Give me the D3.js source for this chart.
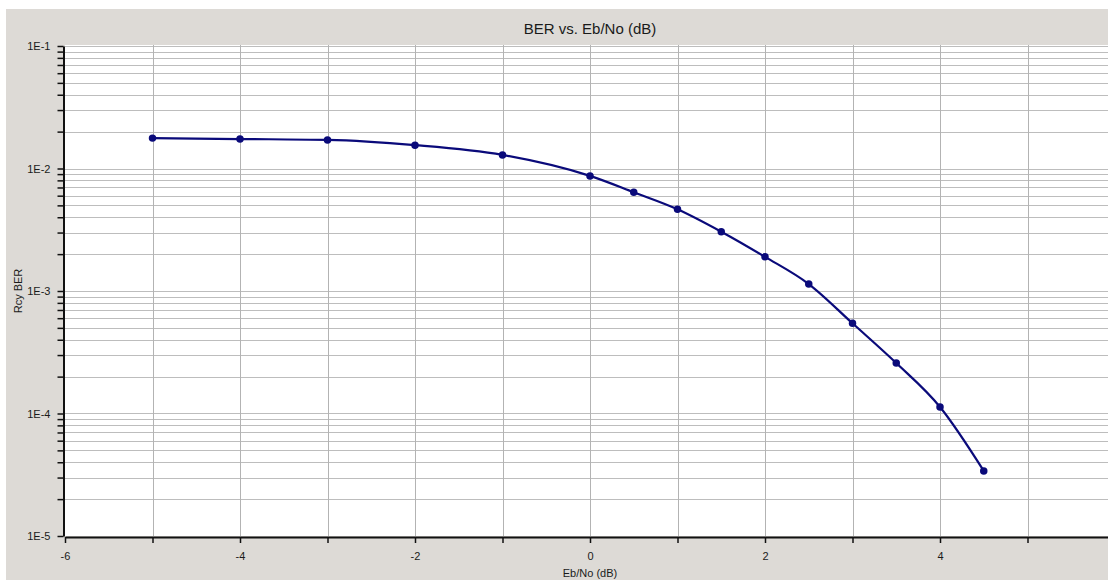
<!DOCTYPE html>
<html>
<head>
<meta charset="utf-8">
<script src="https://cdn.jsdelivr.net/npm/d3@7/dist/d3.min.js"></script>
<style>
  html, body { margin: 0; padding: 0; background: #ffffff; }
  svg { display: block; }
  text { font-family: "Liberation Sans", Arial, sans-serif; fill: #1a1a1a; }
</style>
</head>
<body>
<svg id="chart" width="1108" height="580"></svg>
<script>
// Eb/No sweep (dB) and measured receive bit error rate
const ebno = [-5, -4, -3, -2, -1, 0, 0.5, 1, 1.5, 2, 2.5, 3, 3.5, 4, 4.5];
const ber = [1.77e-2, 1.74e-2, 1.71e-2, 1.55e-2, 1.29e-2, 8.7e-3, 6.4e-3, 4.65e-3,
             3.05e-3, 1.9e-3, 1.14e-3, 5.45e-4, 2.58e-4, 1.13e-4, 3.4e-5];

// Axis ticks and labels
const xTicks = [-6, -5, -4, -3, -2, -1, 0, 1, 2, 3, 4, 5];
const xLabels = ["-6", "-4", "-2", "0", "2", "4"];
const yMajor = [1e-5, 1e-4, 1e-3, 1e-2, 1e-1];
const yLabels = ["1E-5", "1E-4", "1E-3", "1E-2", "1E-1"];

const titleText = "BER vs. Eb/No (dB)";
const xTitle = "Eb/No (dB)";
const yTitle = "Rcy BER";

const W = 1108, H = 580;
const plot = { left: 65, top: 46, bottom: 536 };

const svg = d3.select("#chart");

// grey panel
svg.append("rect").attr("x", 6).attr("y", 9).attr("width", W - 6).attr("height", H - 9)
  .attr("fill", "#dddad6");

const x = d3.scaleLinear().domain([-6, 6]).range([plot.left, plot.left + 12 * 87.5]);
const y = d3.scaleLog().domain([1e-5, 1e-1]).range([plot.bottom, plot.top]);

// plot area
svg.append("rect").attr("x", plot.left).attr("y", plot.top - 1)
  .attr("width", W - plot.left).attr("height", plot.bottom - plot.top + 1)
  .attr("fill", "#ffffff");

// minor ticks (2..9 per decade) and majors
const yAll = [];
for (let e = -5; e < -1; e++) {
  for (let m = 1; m <= 9; m++) yAll.push(m * Math.pow(10, e));
}
yAll.push(1e-1);

// horizontal grid
svg.append("g").selectAll("line").data(yAll.filter(v => v > 1e-5)).join("line")
  .attr("x1", plot.left).attr("x2", W)
  .attr("y1", d => Math.round(y(d)) + 0.5).attr("y2", d => Math.round(y(d)) + 0.5)
  .attr("stroke", "#bdbdbd").attr("stroke-width", 1);

// vertical grid
svg.append("g").selectAll("line").data(xTicks.filter(v => v > -6)).join("line")
  .attr("x1", d => Math.round(x(d)) + 0.5).attr("x2", d => Math.round(x(d)) + 0.5)
  .attr("y1", plot.top - 1).attr("y2", plot.bottom)
  .attr("stroke", "#b3b3b3").attr("stroke-width", 1);

// y axis
const yAxis = d3.axisLeft(y).tickValues(yAll).tickSize(6).tickSizeOuter(0)
  .tickFormat(d => {
    const i = yMajor.findIndex(v => Math.abs(v - d) / v < 1e-6);
    return i >= 0 ? yLabels[i] : "";
  });
const gy = svg.append("g").attr("transform", `translate(${plot.left - 1.5},0)`).call(yAxis);
gy.select(".domain").attr("stroke", "#111").attr("stroke-width", 2);
gy.selectAll(".tick line").attr("stroke", "#111").attr("stroke-width", 1.5);
gy.selectAll(".tick text").attr("x", -13).attr("font-size", 11)
  .style("font-family", "'Liberation Sans', Arial, sans-serif").attr("fill", "#1a1a1a");

// x axis
const xAxis = d3.axisBottom(x).tickValues(xTicks).tickSize(6).tickSizeOuter(0)
  .tickFormat(d => xLabels.includes(String(d)) ? String(d) : "");
const gx = svg.append("g").attr("transform", `translate(0,${plot.bottom + 1})`).call(xAxis);
gx.select(".domain").attr("stroke", "#111").attr("stroke-width", 2);
gx.selectAll(".tick line").attr("stroke", "#111").attr("stroke-width", 1.5);
gx.selectAll(".tick text").attr("y", 15).attr("font-size", 11)
  .style("font-family", "'Liberation Sans', Arial, sans-serif").attr("fill", "#1a1a1a");

// titles
svg.append("text").attr("x", 590).attr("y", 34).attr("text-anchor", "middle")
  .attr("font-size", 15).attr("fill", "#2a2a2a").text(titleText);
svg.append("text").attr("x", 590).attr("y", 577).attr("text-anchor", "middle")
  .attr("font-size", 11).text(xTitle);
svg.append("text").attr("transform", `translate(22,${(plot.top + plot.bottom) / 2}) rotate(-90)`)
  .attr("text-anchor", "middle").attr("font-size", 11).text(yTitle);

// BER curve
const pts = ebno.map((v, i) => [x(v), y(ber[i])]);
svg.append("path").datum(pts)
  .attr("d", d3.line().curve(d3.curveMonotoneX))
  .attr("fill", "none").attr("stroke", "#0a0a7a").attr("stroke-width", 2.2);

// markers
const sym = d3.symbol().type(d3.symbolCircle).size(44);
svg.append("g").selectAll("path").data(pts).join("path")
  .attr("transform", d => `translate(${d[0]},${d[1]})`)
  .attr("d", sym).attr("fill", "#0a0a7a");
</script>
</body>
</html>
